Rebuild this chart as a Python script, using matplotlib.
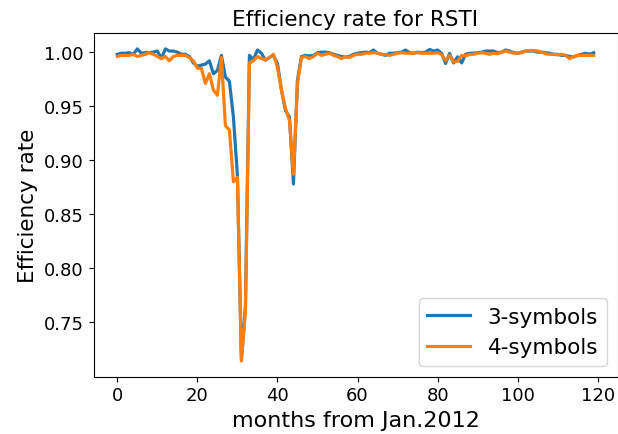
import matplotlib
matplotlib.use("Agg")
import matplotlib.pyplot as plt
import numpy as np

months = list(range(120))

three_symbols = [
    0.998, 0.999, 0.999, 0.9995, 0.998, 1.003, 0.999, 0.9995, 0.9995, 1.000,
    1.001, 0.994, 1.003, 1.001, 1.001, 1.000, 0.998, 0.998, 0.996, 0.990,
    0.987, 0.988, 0.989, 0.992, 0.980, 0.983, 0.997, 0.977, 0.973, 0.940,
    0.886, 0.716, 0.765, 0.997, 0.993, 1.002, 0.999, 0.9925, 0.995, 0.997,
    0.9895, 0.965, 0.946, 0.940, 0.878, 0.974, 0.996, 0.997, 0.9965, 0.997,
    0.9995, 1.000, 1.000, 0.9995, 0.998, 0.997, 0.996, 0.9955, 0.996, 0.998,
    0.999, 0.9995, 1.000, 0.9995, 1.002, 0.999, 0.998, 0.997, 0.999, 0.999,
    0.9995, 1.000, 1.002, 0.9995, 0.999, 1.000, 0.9995, 1.000, 1.0025, 1.001,
    1.002, 0.999, 0.9895, 0.9988, 0.990, 0.9957, 0.990, 0.998, 0.999, 0.999,
    0.9995, 1.000, 1.001, 1.001, 1.001, 0.9995, 1.000, 1.002, 1.001, 0.9995,
    0.999, 1.000, 1.001, 1.001, 1.001, 1.000, 1.000, 0.9995, 0.999, 0.998,
    0.998, 0.997, 0.997, 0.996, 0.9955, 0.997, 0.998, 0.999, 0.998, 0.9995,
]

four_symbols = [
    0.996, 0.997, 0.997, 0.997, 0.998, 0.996, 0.997, 0.998, 0.9995, 0.998,
    0.996, 0.994, 0.996, 0.992, 0.996, 0.997, 0.997, 0.997, 0.995, 0.992,
    0.985, 0.985, 0.971, 0.980, 0.965, 0.960, 0.995, 0.932, 0.928, 0.880,
    0.884, 0.714, 0.759, 0.990, 0.992, 0.996, 0.994, 0.993, 0.995, 0.998,
    0.986, 0.965, 0.948, 0.937, 0.887, 0.971, 0.995, 0.996, 0.994, 0.996,
    0.999, 0.997, 0.998, 0.999, 0.997, 0.996, 0.994, 0.996, 0.995, 0.997,
    0.998, 0.998, 0.999, 0.999, 0.9995, 0.999, 0.998, 0.998, 0.997, 0.998,
    0.999, 0.9995, 0.999, 0.999, 0.999, 0.9995, 0.999, 0.999, 0.999, 0.999,
    0.9995, 0.998, 0.992, 0.997, 0.991, 0.9915, 0.997, 0.9965, 0.998, 0.998,
    0.999, 0.9995, 0.999, 0.998, 0.999, 0.9985, 1.000, 1.001, 1.000, 0.999,
    0.999, 0.9995, 1.001, 1.0015, 1.0015, 1.001, 1.000, 0.9985, 0.998, 0.998,
    0.9975, 0.998, 0.997, 0.994, 0.996, 0.997, 0.997, 0.997, 0.997, 0.997,
]

series_labels = ["3-symbols", "4-symbols"]
title = "Efficiency rate for RSTI"
xlabel = "months from Jan.2012"
ylabel = "Efficiency rate"

fig = plt.figure(figsize=(6.18, 4.35), dpi=100)
ax = fig.add_axes([93.5 / 618, (435 - 377.7) / 435, 524 / 618, 343.4 / 435])

ax.plot(months, three_symbols, color="#1f77b4", lw=2.3, label=series_labels[0])
ax.plot(months, four_symbols, color="#ff7f0e", lw=2.3, label=series_labels[1])

ax.set_title(title, fontsize=15.5)
ax.set_xlabel(xlabel, fontsize=16)
ax.set_ylabel(ylabel, fontsize=15.5)
ax.set_xticks([0, 20, 40, 60, 80, 100, 120])
ax.set_yticks([0.75, 0.80, 0.85, 0.90, 0.95, 1.00])
ax.tick_params(labelsize=13)
ax.legend(loc="lower right", fontsize=15.5)

fig.savefig("out.png", dpi=100)
